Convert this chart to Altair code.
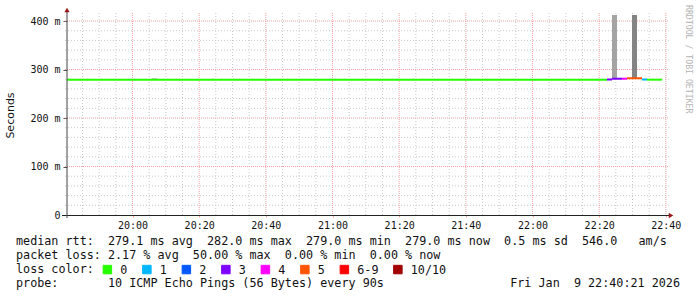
import altair as alt
import pandas as pd

# ---- data ----
# median rtt, drawn as steps coloured by packet loss
seg_start = ["19:40:21", "22:22:21", "22:23:51", "22:26:51", "22:28:21", "22:32:51", "22:34:21"]
seg_end = ["22:22:21", "22:23:51", "22:26:51", "22:28:21", "22:32:51", "22:34:21", "22:38:51"]
seg_rtt = [279.0, 279.4, 281.0, 281.0, 282.0, 279.4, 279.0]
seg_loss = ["0", "3", "3", "4", "5", "1", "0"]

# smoke (ping spread) above the median
smoke_start = ["20:05:51", "22:23:51", "22:29:51"]
smoke_end = ["20:07:21", "22:25:21", "22:31:21"]
smoke_lo = [279.0, 281.0, 282.0]
smoke_hi = [282.5, 600.0, 600.0]
smoke_shade = ["#c4c4c4", "#a4a4a4", "#848484"]

loss_labels = ["0", "1", "2", "3", "4", "5", "6-9", "10/10"]
loss_colors = ["#26ff00", "#00b8ff", "#0059ff", "#7e00ff", "#ff00ff", "#ff5500", "#ff0000", "#a00000"]

x_major_labels = ["20:00", "20:20", "20:40", "21:00", "21:20", "21:40", "22:00", "22:20", "22:40"]
y_major_values = [0, 100, 200, 300, 400]
t_start = "19:40:21"
t_end = "22:40:21"
y_max = 412.4

row1 = "median rtt:  279.1 ms avg  282.0 ms max  279.0 ms min  279.0 ms now  0.5 ms sd  546.0   am/s"
row2 = "packet loss: 2.17 % avg  50.00 % max  0.00 % min  0.00 % now"
row3 = "loss color:"
row4 = "probe:       10 ICMP Echo Pings (56 Bytes) every 90s"
date_txt = "Fri Jan  9 22:40:21 2026"
side_txt = "RRDTOOL / TOBI OETIKER"

NB = "\u00a0"


def to_min(s):
    h, m, sec = (int(v) for v in s.split(":"))
    return h * 60 + m + sec / 60.0


def nb(s):
    return s.replace(" ", NB)


seg = pd.DataFrame({
    "t0": [to_min(s) for s in seg_start],
    "t1": [to_min(s) for s in seg_end],
    "rtt": seg_rtt,
    "loss": seg_loss,
})
smoke = pd.DataFrame({
    "t0": [to_min(s) for s in smoke_start],
    "t1": [to_min(s) for s in smoke_end],
    "lo": smoke_lo,
    "hi": smoke_hi,
    "shade": smoke_shade,
})

x_major = [to_min(s + ":00") for s in x_major_labels]
x_minor = [v for v in range(int(x_major[0]) - 15, int(x_major[-1]) + 1, 5) if v not in x_major]
y_minor = [v for v in range(0, 401, 20) if v not in y_major_values]

MONO = "DejaVu Sans Mono"
MAJ_GRID = "#eca3a3"
MIN_GRID = "#c8c8c8"
LEG_FS = 11.75

x_scale = alt.Scale(domain=[to_min(t_start), to_min(t_end)], nice=False, zero=False)
y_scale = alt.Scale(domain=[0, y_max], nice=False)

x_axis = alt.Axis(
    values=x_major, title=None, domain=False, grid=False,
    ticks=True, tickSize=2, tickColor=MAJ_GRID,
    labelExpr="format(floor(datum.value/60),'02d') + ':' + format(datum.value % 60,'02d')",
    labelFont=MONO, labelFontSize=10, labelColor="#111111",
    labelBaseline="alphabetic", labelPadding=11, labelFlush=False, labelOverlap=False,
)
y_axis = alt.Axis(
    values=y_major_values, title="Seconds", domain=False, grid=False,
    ticks=True, tickSize=4, tickColor="#555555",
    labelExpr="datum.value == 0 ? '0" + NB + NB + "' : datum.value + '" + NB + "m'",
    labelFont=MONO, labelFontSize=10, labelColor="#111111",
    labelBaseline="middle", labelPadding=3, labelOverlap=False,
    titleFont="DejaVu Sans", titleFontSize=11, titleFontWeight="normal", titleColor="#111111",
    titleAngle=270, titleX=-57, titleY=100, titleAlign="center", titleBaseline="middle",
)

X = alt.X("v:Q", scale=x_scale, axis=x_axis)
Y = alt.Y("v:Q", scale=y_scale, axis=y_axis)

# grid lines drawn from the tick arrays through the scales
vminor = alt.Chart(pd.DataFrame({"v": x_minor})).mark_rule(
    color=MIN_GRID, strokeDash=[1, 2], strokeWidth=1).encode(x=X, y=alt.value(-2), y2=alt.value(202))
vmajor = alt.Chart(pd.DataFrame({"v": x_major})).mark_rule(
    color=MAJ_GRID, strokeDash=[1, 1], strokeWidth=1).encode(x=X, y=alt.value(-2), y2=alt.value(202))
hminor = alt.Chart(pd.DataFrame({"v": y_minor})).mark_rule(
    color=MIN_GRID, strokeDash=[1, 2], strokeWidth=1).encode(y=Y, x=alt.value(-2), x2=alt.value(602))
hmajor = alt.Chart(pd.DataFrame({"v": y_major_values[1:]})).mark_rule(
    color=MAJ_GRID, strokeDash=[1, 1], strokeWidth=1).encode(y=Y, x=alt.value(-2), x2=alt.value(602))

smoke_layer = alt.Chart(smoke).mark_rect(clip=True).encode(
    x=alt.X("t0:Q", scale=x_scale, axis=x_axis),
    x2="t1:Q",
    y=alt.Y("lo:Q", scale=y_scale, axis=y_axis),
    y2="hi:Q",
    fill=alt.Fill("shade:N", scale=None),
)

line_layer = alt.Chart(seg).mark_rule(strokeWidth=2).encode(
    x=alt.X("t0:Q", scale=x_scale, axis=x_axis), x2="t1:Q",
    y=alt.Y("rtt:Q", scale=y_scale, axis=y_axis),
    color=alt.Color("loss:N", scale=alt.Scale(domain=loss_labels, range=loss_colors), legend=None),
)

legend_layer = alt.Chart(seg).mark_square(opacity=0).encode(
    x=alt.X("t0:Q", scale=x_scale, axis=x_axis),
    y=alt.Y("rtt:Q", scale=y_scale, axis=y_axis),
    fill=alt.Fill(
        "loss:N",
        scale=alt.Scale(domain=loss_labels, range=loss_colors),
        legend=alt.Legend(
            title=None, orient="none", legendX=34.5, legendY=248.5,
            direction="horizontal", columns=8, padding=0,
            symbolType="square", symbolSize=72, symbolOpacity=1,
            symbolStrokeColor="#000000", symbolStrokeWidth=1,
            labelFont=MONO, labelFontSize=LEG_FS, labelColor="#111111",
            labelOffset=7, columnPadding=12.5,
        ),
    ),
)

one = pd.DataFrame({"k": [0]})
axis_x_line = alt.Chart(one).mark_rule(color="#222222", strokeWidth=1).encode(
    x=alt.value(-5), x2=alt.value(602), y=alt.value(200.5))
axis_y_line = alt.Chart(one).mark_rule(color="#444444", strokeWidth=1).encode(
    x=alt.value(0), y=alt.value(-3), y2=alt.value(203))
arrow_up = alt.Chart(one).mark_point(shape="triangle-up", filled=True, size=28, color="#9a1a1a", opacity=1).encode(
    x=alt.value(0), y=alt.value(-5))
arrow_right = alt.Chart(one).mark_point(shape="triangle-right", filled=True, size=28, color="#9a1a1a", opacity=1).encode(
    x=alt.value(604), y=alt.value(200.5))


def txt_layer(s, y, x=-51, align="left"):
    d = pd.DataFrame({"txt": [nb(s)]})
    return alt.Chart(d).mark_text(
        font=MONO, fontSize=LEG_FS, color="#111111", align=align, baseline="alphabetic"
    ).encode(text="txt:N", x=alt.value(x), y=alt.value(y))


side = alt.Chart(pd.DataFrame({"txt": [side_txt]})).mark_text(
    font=MONO, fontSize=8.2, color="#b4b4b4", angle=90, align="left", baseline="middle"
).encode(text="txt:N", x=alt.value(620.7), y=alt.value(-10))

chart = alt.layer(
    vminor, hminor, vmajor, hmajor,
    smoke_layer, line_layer, legend_layer,
    axis_x_line, axis_y_line, arrow_up, arrow_right,
    txt_layer(row1, 230), txt_layer(row2, 244), txt_layer(row3, 258), txt_layer(row4, 272),
    txt_layer(date_txt, 272, x=613, align="right"),
    side,
).properties(
    width=600, height=200,
    autosize=alt.AutoSizeParams(type="none"),
    padding={"left": 67, "top": 15, "right": 30, "bottom": 82},
    background="#ffffff",
).configure_view(stroke=None)

chart.save("out.html", embed_options={"renderer": "svg", "actions": False})
